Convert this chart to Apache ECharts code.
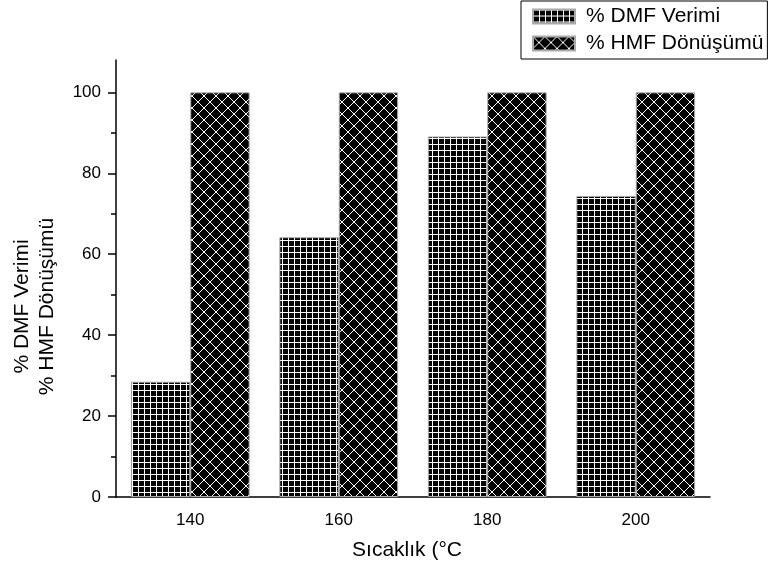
<!DOCTYPE html>
<html>
<head>
<meta charset="utf-8">
<script src="https://cdn.jsdelivr.net/npm/echarts@6/dist/echarts.min.js"></script>
<style>
  html, body { margin: 0; padding: 0; background: #fff; }
  #chart { width: 768px; height: 566px; }
</style>
</head>
<body>
<div id="chart"></div>
<script>
// veriler
const categories = ['140', '160', '180', '200']
const dmfYield = [28.5, 64.2, 89.1, 74.4]
const hmfConversion = [100, 100, 100, 100]
const yMajorTicks = [0, 20, 40, 60, 80, 100]
const yMinorTicks = [10, 30, 50, 70, 90]

// kareli desen (DMF)
const makeGrid = () => {
  const c = document.createElement('canvas')
  c.width = 6; c.height = 6
  const ctx = c.getContext('2d')
  ctx.fillStyle = '#000'
  ctx.fillRect(0, 0, 6, 6)
  ctx.fillStyle = '#fff'
  ctx.fillRect(0, 0, 6, 1)
  ctx.fillRect(0, 0, 1, 6)
  return c
}

// çapraz desen (HMF)
const makeCross = () => {
  const c = document.createElement('canvas')
  c.width = 12; c.height = 12
  const ctx = c.getContext('2d')
  ctx.fillStyle = '#000'
  ctx.fillRect(0, 0, 12, 12)
  ctx.strokeStyle = '#fff'
  ctx.lineWidth = 1
  ctx.beginPath()
  ctx.moveTo(0, 0); ctx.lineTo(12, 12)
  ctx.moveTo(12, 0); ctx.lineTo(0, 12)
  ctx.stroke()
  return c
}

const chart = echarts.init(document.getElementById('chart'))
const font = 'Arial, "Liberation Sans", sans-serif'
const axisColor = '#000'

const option = {
  animation: false,
  textStyle: { fontFamily: font, color: '#000' },
  legend: {
    orient: 'vertical',
    left: 521,
    top: 1,
    padding: [5, 4, 5, 11],
    itemGap: 6,
    itemWidth: 42,
    itemHeight: 14,
    icon: 'rect',
    borderColor: '#000',
    borderWidth: 1,
    textStyle: { fontSize: 21, color: '#000', fontFamily: font, padding: [0, 0, 0, 6] },
    data: ['% DMF Verimi', '% HMF Dönüşümü']
  },
  grid: { left: 116, right: 58, top: 60, bottom: 69 },
  xAxis: [
    {
      type: 'category',
      data: categories,
      name: 'Sıcaklık (°C',
      nameLocation: 'middle',
      nameGap: 43,
      nameTextStyle: { fontSize: 21, padding: [0, 12, 0, 0] },
      axisLine: { lineStyle: { color: axisColor, width: 1.5 } },
      axisTick: { alignWithLabel: true, length: 8, lineStyle: { color: axisColor, width: 1.5 } },
      axisLabel: { fontSize: 17, margin: 15, color: '#000' }
    },
    {
      type: 'category',
      data: categories,
      position: 'bottom',
      axisLine: { show: false },
      axisTick: { length: 4, lineStyle: { color: axisColor, width: 1.5 } },
      axisLabel: { show: false }
    }
  ],
  yAxis: [
    {
      type: 'value',
      min: 0,
      max: 108,
      interval: 20,
      name: '% DMF Verimi\n% HMF Dönüşümü',
      nameLocation: 'middle',
      nameGap: 56,
      nameRotate: 90,
      nameTextStyle: { fontSize: 21, lineHeight: 25, padding: [0, 56, 0, 0] },
      axisLine: { show: true, lineStyle: { color: axisColor, width: 1.5 } },
      axisTick: { show: true, length: 8, customValues: yMajorTicks, lineStyle: { color: axisColor, width: 1.5 } },
      axisLabel: { fontSize: 17, margin: 15, color: '#000', customValues: yMajorTicks },
      splitLine: { show: false }
    },
    {
      type: 'value',
      min: 0,
      max: 108,
      position: 'left',
      axisLine: { show: false },
      axisTick: { show: true, length: 5, customValues: yMinorTicks, lineStyle: { color: axisColor, width: 1.5 } },
      axisLabel: { show: false },
      splitLine: { show: false }
    }
  ],
  series: [
    {
      name: '% DMF Verimi',
      type: 'bar',
      data: dmfYield,
      barGap: '0%',
      barCategoryGap: '20%',
      itemStyle: {
        color: { image: makeGrid(), repeat: 'repeat' },
        borderColor: '#aaa',
        borderWidth: 1
      }
    },
    {
      name: '% HMF Dönüşümü',
      type: 'bar',
      data: hmfConversion,
      barGap: '0%',
      barCategoryGap: '20%',
      itemStyle: {
        color: { image: makeCross(), repeat: 'repeat' },
        borderColor: '#aaa',
        borderWidth: 1
      }
    }
  ]
}

chart.setOption(option)
</script>
</body>
</html>
